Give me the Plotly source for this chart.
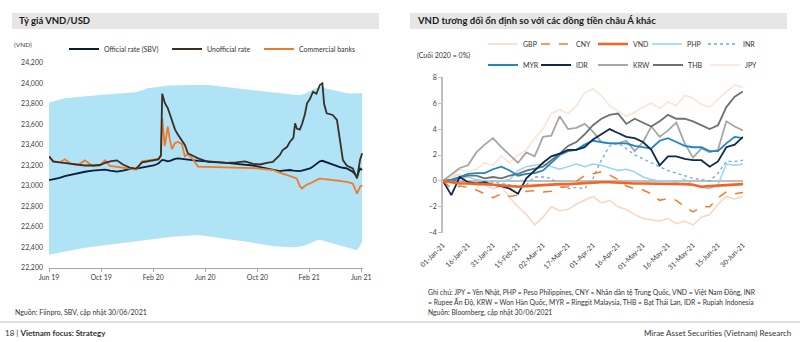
import plotly.graph_objects as go

FONT = "Lato"
W, H = 800, 342

# ---------------- Left chart: VND/USD ----------------
vnd_dates = ['2019-06-30','2019-07-10','2019-07-25','2019-08-06','2019-08-20','2019-09-06','2019-09-22','2019-10-10','2019-10-27','2019-11-08','2019-11-20','2019-12-06','2019-12-20',
             '2020-01-05','2020-01-20','2020-02-03','2020-02-15','2020-03-01','2020-03-12','2020-03-18','2020-03-21','2020-03-27','2020-04-03','2020-04-08','2020-04-13','2020-04-20','2020-04-27','2020-05-06','2020-05-13','2020-05-20','2020-05-30','2020-06-13','2020-07-06','2020-07-27','2020-08-19','2020-09-10','2020-10-01','2020-10-20','2020-11-05','2020-11-21','2020-12-05','2020-12-21','2020-12-28',
             '2021-01-07','2021-01-14','2021-01-22','2021-01-26','2021-01-30','2021-02-06','2021-02-11','2021-02-18','2021-02-23','2021-03-02','2021-03-09','2021-03-17','2021-03-25','2021-03-31','2021-04-04','2021-04-10','2021-04-24','2021-05-04','2021-05-11','2021-05-18','2021-05-27','2021-06-10','2021-06-20','2021-06-27','2021-07-02']

official_rate = [23058,23065,23080,23097,23110,23125,23139,23150,23156,23160,23150,23140,23150,
                 23165,23170,23181,23190,23200,23220,23250,23255,23250,23240,23245,23255,23265,23270,23265,23260,23255,23255,23245,23240,23236,23225,23215,23208,23200,23185,23171,23160,23146,23150,
                 23155,23156,23150,23148,23146,23146,23150,23160,23165,23171,23190,23215,23240,23246,23240,23230,23204,23190,23185,23178,23171,23139,23090,23171,23156]

unofficial_rate = [23290,23240,23230,23225,23215,23205,23200,23200,23205,23225,23240,23250,23210,
                   23180,23170,23230,23240,23250,23260,23300,23900,23810,23760,23700,23640,23550,23500,23450,23400,23320,23300,23270,23235,23230,23225,23230,23240,23215,23210,23225,23236,23300,23350,
                   23380,23432,23470,23612,23560,23550,23600,23700,23807,23850,23920,23900,23985,24002,23800,23709,23693,23644,23449,23253,23200,23171,23074,23253,23319]

commercial_banks = [23290,23235,23230,23260,23215,23205,23250,23195,23200,23250,23195,23185,23175,
                    23165,23160,23240,23250,23260,23265,23290,23660,23390,23580,23450,23360,23420,23430,23410,23290,23310,23270,23190,23188,23185,23180,23180,23178,23175,23170,23165,23156,23130,23120,
                    23107,23100,23085,23080,23074,23000,22976,23000,23015,23025,23040,23055,23074,23070,23068,23070,23065,23055,23050,23045,23041,23025,22926,22991,23008]

band_upper = [23815,23825,23840,23856,23862,23870,23878,23884,23888,23892,23895,23898,23904,
              23908,23915,23935,23953,23962,23970,23974,23975,23977,23980,23981,23982,23983,23984,23985,23985,23986,23986,23986,23985,23975,23962,23950,23942,23934,23928,23920,23912,23905,23902,
              23898,23895,23892,23890,23889,23888,23892,23900,23910,23925,23945,23958,23968,23970,23960,23950,23937,23928,23920,23912,23906,23902,23900,23905,23910]

band_lower = [22330,22337,22348,22357,22370,22385,22398,22408,22415,22425,22432,22440,22448,
              22455,22462,22470,22478,22485,22492,22496,22497,22499,22501,22503,22505,22508,22510,22513,22515,22517,22519,22521,22510,22495,22482,22470,22458,22445,22432,22424,22415,22408,22405,
              22403,22402,22403,22404,22406,22409,22412,22420,22430,22445,22460,22468,22473,22470,22465,22457,22440,22428,22420,22412,22402,22385,22372,22420,22457]

left_tickvals = ['2019-06-30','2019-10-30','2020-02-29','2020-06-30','2020-10-30','2021-02-28','2021-06-30']
left_ticktext = ['Jun 19','Oct 19','Feb 20','Jun 20','Oct 20','Feb 21','Jun 21']
left_yticks = [22200,22400,22600,22800,23000,23200,23400,23600,23800,24000,24200]

# ---------------- Right chart: Asian currencies ----------------
fx_dates = ['2021-01-01','2021-01-06','2021-01-11','2021-01-16','2021-01-21','2021-01-26','2021-01-31',
            '2021-02-05','2021-02-10','2021-02-15','2021-02-20','2021-02-25','2021-03-02','2021-03-07',
            '2021-03-12','2021-03-17','2021-03-22','2021-03-27','2021-04-01','2021-04-06','2021-04-11',
            '2021-04-16','2021-04-21','2021-04-26','2021-05-01','2021-05-06','2021-05-11','2021-05-16',
            '2021-05-21','2021-05-26','2021-05-31','2021-06-05','2021-06-10','2021-06-15','2021-06-20',
            '2021-06-25','2021-06-30']

gbp = [0,0.3,0.5,-0.1,-0.4,-0.3,-0.6,-0.4,-1.3,-2.0,-2.6,-3.4,-2.8,-2.0,-2.3,-2.2,-1.8,-1.5,-1.2,-1.7,-1.5,-2.0,-2.2,-2.6,-2.9,-3.0,-3.1,-2.9,-3.3,-3.1,-3.4,-2.8,-2.6,-1.8,-1.2,-1.4,-1.2]
cny = [0,-0.6,-0.4,-0.5,-0.7,-1.0,-1.3,-1.0,-1.2,-1.1,-0.8,-0.75,-0.85,-0.8,-0.5,-0.45,0.0,0.4,0.55,0.7,0.45,0.1,-0.4,-0.6,-0.7,-1.0,-1.5,-1.35,-1.5,-2.0,-2.4,-2.0,-2.0,-1.3,-0.85,-1.0,-0.9]
vnd = [0,-0.1,-0.2,-0.2,-0.2,-0.25,-0.3,-0.35,-0.4,-0.45,-0.4,-0.35,-0.3,-0.3,-0.25,-0.25,-0.2,-0.15,-0.1,-0.1,-0.1,-0.15,-0.15,-0.2,-0.2,-0.2,-0.25,-0.2,-0.25,-0.25,-0.3,-0.45,-0.4,-0.35,-0.3,-0.3,-0.25]
php = [0,0.1,0.2,0.3,0.1,0.0,0.0,0.0,0.1,0.8,1.1,1.2,1.3,1.1,0.9,1.1,1.3,1.1,1.3,1.2,1.0,0.8,0.9,0.7,0.3,0.1,0.0,0.0,-0.1,0.1,-0.3,-0.5,-0.6,-0.3,1.3,1.2,1.3]
inr = [0,0.1,0.0,-0.1,-0.2,-0.1,-0.1,-0.2,-0.3,-0.4,-0.3,0.3,0.3,0.2,-0.4,-0.6,-0.5,-0.6,0.2,1.6,2.7,2.9,2.5,2.0,1.7,1.4,1.1,0.8,0.6,0.4,0.2,0.1,0.0,0.6,1.5,1.5,1.6]
myr = [0,0.1,0.3,0.55,0.6,0.6,0.9,1.1,0.8,0.4,0.55,0.6,0.8,1.4,2.0,2.3,2.4,2.8,3.1,3.0,2.9,2.9,2.9,2.7,2.6,2.5,3.1,3.3,3.0,2.7,2.6,2.6,2.3,2.3,2.9,3.4,3.3]
idr = [0,-1.1,0.3,-0.1,-0.2,-0.1,-0.3,-0.4,-0.6,-1.0,0.2,0.8,1.4,1.9,2.1,2.4,2.4,2.6,3.2,3.6,4.0,3.7,3.4,3.3,3.0,2.4,1.2,1.9,1.9,1.7,1.6,1.6,1.1,1.5,2.6,2.8,3.4]
krw = [0,0.5,1.0,1.2,2.2,2.8,3.3,2.6,2.0,1.4,2.2,1.9,3.4,3.5,5.0,4.0,4.1,4.4,3.8,3.0,2.9,2.9,3.1,2.3,3.0,4.2,3.4,3.9,4.5,2.9,1.8,2.5,2.2,2.4,4.6,4.2,3.9]
thb = [0,-0.1,0.3,0.4,0.4,0.2,0.3,0.2,0.4,0.55,0.8,0.95,1.1,1.6,2.1,2.7,3.0,3.6,4.3,4.8,5.1,5.2,4.4,4.8,4.5,4.2,4.6,5.1,4.8,4.8,4.6,4.3,4.0,4.3,5.7,6.5,6.9]
jpy = [0,0.3,0.9,0.7,0.9,1.4,1.2,1.9,1.4,2.0,2.4,3.3,4.0,5.2,5.5,5.2,5.8,6.8,7.1,6.6,5.8,5.4,5.0,5.3,5.7,6.0,5.6,6.1,5.8,6.6,6.4,5.9,5.7,6.3,6.9,7.4,7.2]

fx_tickvals = ['2021-01-01','2021-01-16','2021-01-31','2021-02-15','2021-03-02','2021-03-17','2021-04-01',
               '2021-04-16','2021-05-01','2021-05-16','2021-05-31','2021-06-15','2021-06-30']
fx_ticktext = ['01-Jan-21','16-Jan-21','31-Jan-21','15-Feb-21','02-Mar-21','17-Mar-21','01-Apr-21',
               '16-Apr-21','01-May-21','16-May-21','31-May-21','15-Jun-21','30-Jun-21']
fx_yticks = [-4,-2,0,2,4,6,8]


def px(x):
    return x / W


def py(y):
    return 1 - y / H


fig = go.Figure()

# band
fig.add_trace(go.Scatter(x=vnd_dates, y=band_upper, mode='lines', line=dict(width=0, color='#b0e3f6'),
                         showlegend=False, hoverinfo='skip', xaxis='x', yaxis='y'))
fig.add_trace(go.Scatter(x=vnd_dates, y=band_lower, mode='lines', line=dict(width=0, color='#b0e3f6'),
                         fill='tonexty', fillcolor='#b0e3f6', showlegend=False, hoverinfo='skip',
                         xaxis='x', yaxis='y'))
fig.add_trace(go.Scatter(x=vnd_dates, y=official_rate, mode='lines', name='Official rate (SBV)',
                         line=dict(color='#0c1d3c', width=1.8), legend='legend', xaxis='x', yaxis='y'))
fig.add_trace(go.Scatter(x=vnd_dates, y=commercial_banks, mode='lines', name='Commercial banks',
                         line=dict(color='#ee7b2a', width=1.8), legend='legend3', xaxis='x', yaxis='y'))
fig.add_trace(go.Scatter(x=vnd_dates, y=unofficial_rate, mode='lines', name='Unofficial rate',
                         line=dict(color='#3a2e25', width=1.8), legend='legend2', xaxis='x', yaxis='y'))

# right chart series: (name, data, color, width, dash, legend)
fx_series = [
    ('GBP', gbp, '#f8d6c0', 1.5, 'solid', 'legend4'),
    ('JPY', jpy, '#fbe3d3', 1.5, 'solid', 'legend13'),
    ('PHP', php, '#93d5f2', 1.5, 'solid', 'legend7'),
    ('INR', inr, '#6fa8dc', 1.3, 'dot', 'legend8'),
    ('KRW', krw, '#a6a6a6', 1.8, 'solid', 'legend11'),
    ('THB', thb, '#707070', 1.8, 'solid', 'legend12'),
    ('MYR', myr, '#1f86c6', 1.8, 'solid', 'legend9'),
    ('IDR', idr, '#10294a', 1.8, 'solid', 'legend10'),
    ('CNY', cny, '#ed7d31', 1.5, 'dash', 'legend5'),
    ('VND', vnd, '#f26522', 2.6, 'solid', 'legend6'),
]
for name, data, color, width, dash, leg in fx_series:
    fig.add_trace(go.Scatter(x=fx_dates, y=data, mode='lines', name=name,
                             line=dict(color=color, width=width, dash=dash),
                             legend=leg, xaxis='x2', yaxis='y2'))

tick_font = dict(family=FONT, size=7, color='#404040')
leg_font = dict(family=FONT, size=7, color='#333333')

LEG_SHIFT = 40  # distance from legend box left edge to the item text


def legend_at(x_text, y_mid):
    return dict(x=px(x_text - LEG_SHIFT), y=py(y_mid), xanchor='left', yanchor='middle', orientation='h',
                bgcolor='rgba(0,0,0,0)', borderwidth=0, font=leg_font, itemwidth=30,
                itemclick=False, itemdoubleclick=False)


legends = {
    'legend': legend_at(104, 49), 'legend2': legend_at(207, 49), 'legend3': legend_at(299, 49),
    'legend4': legend_at(523, 44), 'legend5': legend_at(576, 44), 'legend6': legend_at(633, 44),
    'legend7': legend_at(687, 44), 'legend8': legend_at(743, 44),
    'legend9': legend_at(523, 65), 'legend10': legend_at(576, 65), 'legend11': legend_at(633, 65),
    'legend12': legend_at(688, 65), 'legend13': legend_at(745, 65),
}

annotations = []


def text(x, y, s, size=7, color='#333333', anchor='left', bold=False):
    annotations.append(dict(x=px(x), y=py(y), xref='paper', yref='paper', text=('<b>%s</b>' % s) if bold else s,
                            showarrow=False, xanchor=anchor, yanchor='middle',
                            font=dict(family=FONT, size=size, color=color)))


text(17, 21, 'Tỷ giá VND/USD', size=9.5, color='#1a1a1a', bold=True)
text(415, 21, 'VND tương đối ổn định so với các đồng tiền châu Á khác', size=9.5, color='#1a1a1a', bold=True)
text(12, 44, '(VND)', size=6.5)
text(415, 55, '(Cuối 2020 = 0%)', size=7)
text(13, 312, 'Nguồn: Fiinpro, SBV, cập nhật 30/06/2021', size=7)
text(426, 292, 'Ghi chú: JPY = Yên Nhật, PHP = Peso Philippines, CNY = Nhân dân tệ Trung Quốc, VND = Việt Nam Đồng, INR', size=6.8)
text(426, 302, '= Rupee Ấn Độ, KRW = Won Hàn Quốc, MYR = Ringgit Malaysia, THB = Bạt Thái Lan, IDR = Rupiah Indonesia', size=6.8)
text(426, 312, 'Nguồn: Bloomberg, cập nhật 30/06/2021', size=6.8)
text(3, 333, '18 | <b>Vietnam focus: Strategy</b>', size=8, color='#333333')
text(793, 333, 'Mirae Asset Securities (Vietnam) Research', size=8, color='#333333', anchor='right')

shapes = [
    dict(type='rect', xref='paper', yref='paper', x0=px(12), x1=px(379), y0=py(29), y1=py(13),
         fillcolor='#e6e6e6', line=dict(width=0), layer='below'),
    dict(type='rect', xref='paper', yref='paper', x0=px(410), x1=px(787), y0=py(29), y1=py(13),
         fillcolor='#e6e6e6', line=dict(width=0), layer='below'),
    dict(type='line', xref='paper', yref='paper', x0=0, x1=1, y0=py(322), y1=py(322),
         line=dict(color='#d6d6d6', width=1.5)),
]

fig.update_layout(
    width=W, height=H, margin=dict(l=0, r=0, t=0, b=0, autoexpand=False),
    paper_bgcolor='white', plot_bgcolor='rgba(0,0,0,0)',
    font=dict(family=FONT, size=7, color='#404040'),
    annotations=annotations, shapes=shapes,
    xaxis=dict(domain=[px(49), px(363)], anchor='y', type='date', automargin=False,
               range=['2019-06-30', '2021-07-04'], tickvals=left_tickvals, ticktext=left_ticktext,
               showgrid=False, zeroline=False, showline=True, linecolor='#a6a6a6', linewidth=1,
               ticks='outside', ticklen=3, tickcolor='#a6a6a6', tickfont=tick_font),
    yaxis=dict(domain=[py(268), py(63)], anchor='x', range=[22200, 24200], tickvals=left_yticks,
               tickformat=',d', showgrid=False, zeroline=False, showline=False, ticks='', automargin=False,
               ticklabelstandoff=5, tickfont=tick_font),
    xaxis2=dict(domain=[px(443), px(743)], anchor='y2', type='date', automargin=False,
                range=['2021-01-01', '2021-06-30'], tickvals=fx_tickvals, ticktext=fx_ticktext,
                tickangle=-45, showgrid=False, zeroline=False, showline=False, ticks='',
                ticklabelstandoff=6, tickfont=tick_font),
    yaxis2=dict(domain=[py(232.7), py(77.3)], anchor='x2', range=[-4, 8], tickvals=fx_yticks,
                showgrid=False, zeroline=True, zerolinecolor='#bfbfbf', zerolinewidth=1.5, automargin=False,
                showline=True, linecolor='#bfbfbf', linewidth=1.5, ticks='outside', ticklen=3,
                tickcolor='#bfbfbf', tickfont=tick_font),
    **legends,
)

fig.write_html("out.html")
